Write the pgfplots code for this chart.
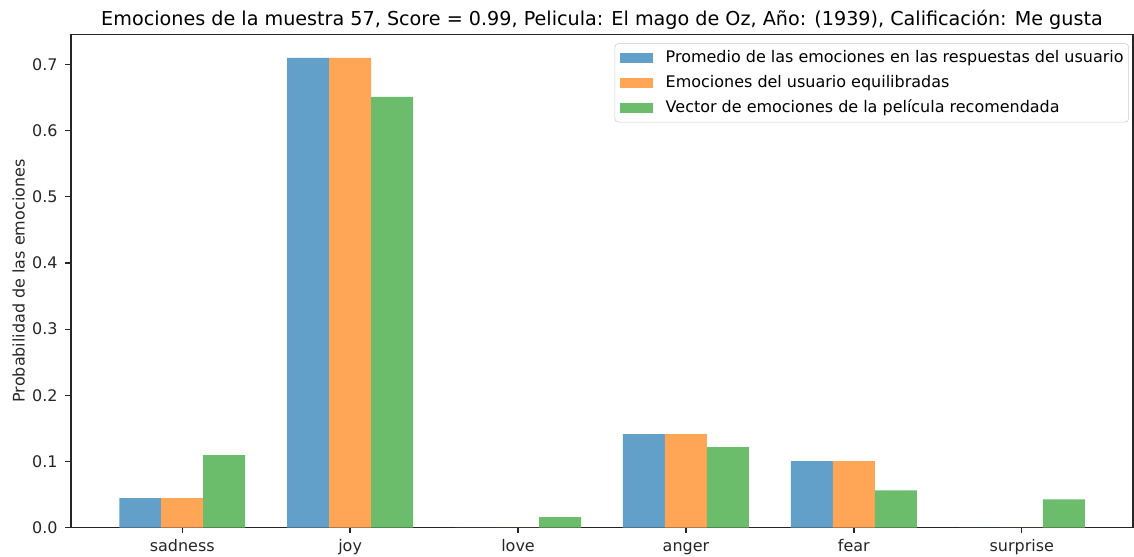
\documentclass[border=0pt]{standalone}
\usepackage{pgfplots}
\pgfplotsset{compat=1.18}
\usepackage{fontspec}
\setmainfont{DejaVu Sans}
\definecolor{cblue}{HTML}{62A0CA}
\definecolor{corange}{HTML}{FFA556}
\definecolor{cgreen}{HTML}{6BBC6B}
\definecolor{spine}{HTML}{262626}
\begin{document}
\begin{tikzpicture}
\begin{axis}[
  width=764.6pt, height=355.2pt, scale only axis,
  ybar, bar width=0.25,
  xmin=-0.6625, xmax=5.6625, ymin=0, ymax=0.7455,
  xtick={0,1,2,3,4,5},
  xticklabels={sadness,joy,love,anger,fear,surprise},
  ytick={0,0.1,0.2,0.3,0.4,0.5,0.6,0.7},
  xtick pos=bottom, ytick pos=left,
  yticklabel style={anchor=east, xshift=-5.4pt, /pgf/number format/fixed, /pgf/number format/fixed zerofill, /pgf/number format/precision=1, /pgf/number format/assume math mode=true},
  tick align=outside, major tick length=4pt,
  tick style={spine, line width=0.92pt},
  axis line style={spine, line width=0.92pt},
  tick label style={font=\fontsize{11.5}{13}\selectfont, text=spine, inner sep=0pt},
  xticklabel style={text height=8.6pt, text depth=0pt, anchor=north, yshift=-4.7pt},
  title={Emociones de la muestra 57, Score = 0.99, Pelicula: El mago de Oz, Año: (1939), Calificación: Me gusta},
  title style={font=\fontsize{13.8}{15}\selectfont, text=black, at={(axis description cs:0.5,1)}, anchor=base, inner sep=0pt},
  ylabel={Probabilidad de las emociones},
  ylabel style={font=\fontsize{11.5}{13}\selectfont, text=spine, at={(axis description cs:-0.04355,0.5)}, anchor=base, inner sep=0pt},
  legend style={at={(1,1)}, anchor=north east, xshift=-3pt, yshift=-6.5pt,
    draw=black!20, rounded corners=2.5pt, fill=white, fill opacity=0.8, text opacity=1,
    font=\fontsize{11.5}{13}\selectfont,
    nodes={inner sep=0pt, text height=9pt, text depth=2.5pt},
    row sep=6.5pt, column sep=0pt, inner xsep=3.6pt, inner ysep=4.5pt},
  legend cell align=left,
  legend image code/.code={\fill[#1, sharp corners, fill opacity=1, draw opacity=1] (0pt,-3.85pt) rectangle (23.5pt,3.85pt); \path (33pt,0pt);},
]
\addplot[fill=cblue, draw=none, bar shift=-0.25] coordinates {(0,0.0445) (1,0.710) (2,0) (3,0.1414) (4,0.1005) (5,0)};
\addplot[fill=corange, draw=none, bar shift=0] coordinates {(0,0.0445) (1,0.710) (2,0) (3,0.1414) (4,0.1005) (5,0)};
\addplot[fill=cgreen, draw=none, bar shift=0.25] coordinates {(0,0.1097) (1,0.651) (2,0.016) (3,0.1217) (4,0.0565) (5,0.0429)};
\legend{Promedio de las emociones en las respuestas del usuario, Emociones del usuario equilibradas, Vector de emociones de la película recomendada}
\end{axis}
\pgfresetboundingbox
\path[use as bounding box] ([shift={(-51.1pt,-21.1pt)}]current axis.south west) rectangle ([shift={(0.7pt,24.7pt)}]current axis.north east);
\end{tikzpicture}
\end{document}
